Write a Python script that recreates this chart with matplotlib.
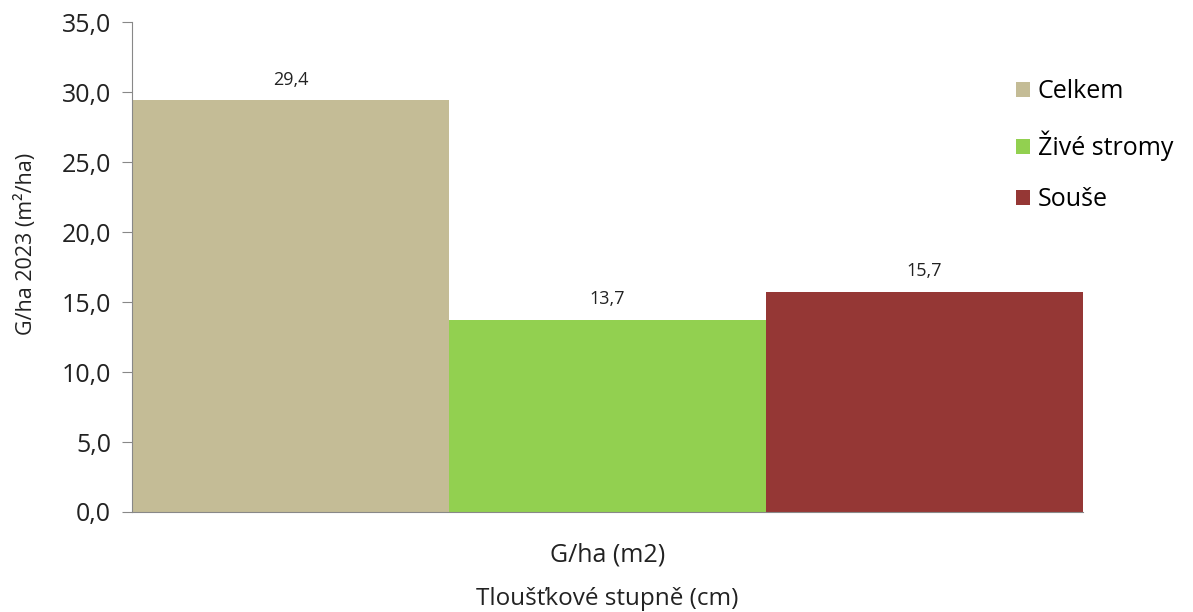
import matplotlib.pyplot as plt
from matplotlib.patches import Patch

# Data
series = ["Celkem", "Živé stromy", "Souše"]
values = [29.4, 13.7, 15.7]
category = "G/ha (m2)"
colors = ["#C4BC96", "#92D050", "#953735"]

plt.rcParams["font.family"] = ["Open Sans", "DejaVu Sans"]

fig = plt.figure(figsize=(11.93, 6.12), dpi=100)
ax = fig.add_axes([0.1106, 0.1634, 0.7972, 0.8006])

n = len(series)
width = 1.0 / n
for i, (name, val, col) in enumerate(zip(series, values, colors)):
    x = -0.5 + width * (i + 0.5)
    ax.bar(x, val, width=width, color=col, label=name)
    ax.annotate(f"{val:.1f}".replace(".", ","), (x, val), xytext=(0, 15),
                textcoords="offset points", ha="center", va="center",
                fontsize=13, color="#222222")

ax.set_xlim(-0.5, 0.5)
ax.set_ylim(0, 35)
ax.set_yticks(range(0, 36, 5))
ax.set_yticklabels([f"{t:.1f}".replace(".", ",") for t in range(0, 36, 5)],
                   fontsize=18, color="#222222")
ax.set_xticks([0])
ax.set_xticklabels([category], fontsize=18, color="#222222")
ax.tick_params(axis="x", length=0, pad=22)
ax.tick_params(axis="y", length=7, color="#888888", direction="out", pad=8)

for s in ["top", "right"]:
    ax.spines[s].set_visible(False)
ax.spines["left"].set_color("#888888")
ax.spines["bottom"].set_color("#888888")

ax.set_ylabel("G/ha 2023 (m²/ha)", fontsize=15.5, color="#222222")
ax.yaxis.set_label_coords(-0.10, 0.547)
ax.set_xlabel("Tloušťkové stupně (cm)", fontsize=17.5, color="#222222", labelpad=14)

handles = [Patch(facecolor=c, label=s) for s, c in zip(series, colors)]
fig.legend(handles=handles, loc="upper left", bbox_to_anchor=(0.833, 0.907),
           frameon=False, fontsize=18, handlelength=0.55, handleheight=0.55,
           handletextpad=0.3, labelspacing=1.05)

fig.savefig("out.png", dpi=100)
